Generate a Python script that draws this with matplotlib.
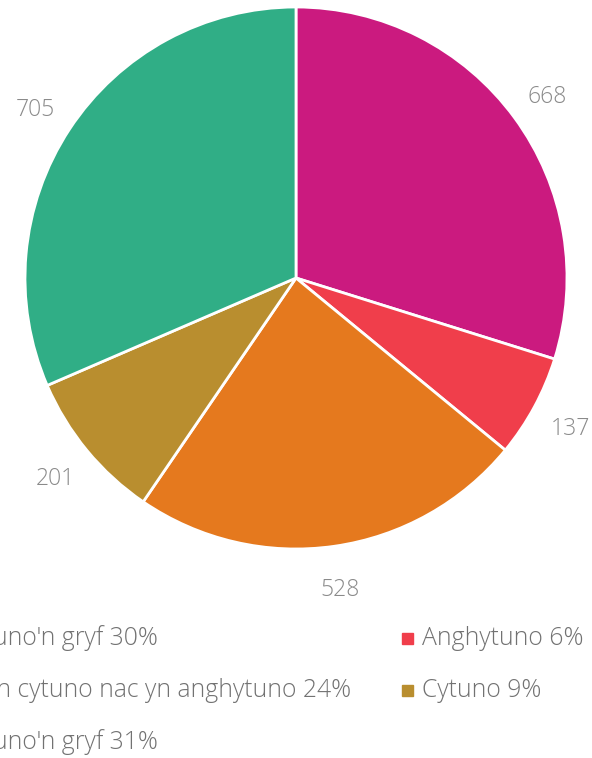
import matplotlib
matplotlib.use('Agg')
import matplotlib.pyplot as plt
from matplotlib.patches import Rectangle

plt.rcParams['font.family'] = ['Open Sans', 'DejaVu Sans']
plt.rcParams['font.weight'] = 'light'

# data
labels = ["Anghytuno'n gryf", "Anghytuno", "Ddim yn cytuno nac yn anghytuno", "Cytuno", "Cytuno'n gryf"]
values = [668, 137, 528, 201, 705]
percents = [30, 6, 24, 9, 31]
colors = ['#CB1A7F', '#F03E4B', '#E5791E', '#B98E2F', '#30AE86']

W, H = 592, 758
fig = plt.figure(figsize=(W / 100, H / 100), dpi=100)

# pie axes: centre (296, 278) px, radius 271 px
cx, cy, r = 296, 278, 271
ax = fig.add_axes([(cx - r) / W, 1 - (cy + r) / H, 2 * r / W, 2 * r / H])
wedges, texts = ax.pie(values, colors=colors, startangle=90, counterclock=False,
                       labels=[str(v) for v in values], labeldistance=1.15,
                       wedgeprops=dict(edgecolor='white', linewidth=2),
                       textprops=dict(color='#8A8A8A', fontsize=16.5))
for t in texts:
    t.set_ha('center')
    t.set_va('center_baseline')
ax.set_xlim(-1, 1)
ax.set_ylim(-1, 1)


def px(x, y):
    return x / W, 1 - y / H


# legend, laid out row by row in two columns; left column runs off the edge
legend_txt = [f"{l} {p}%" for l, p in zip(labels, percents)]
col1_end = [158, 351, 158]
baselines = [645, 697, 749]
for i, txt in enumerate(legend_txt):
    row, col = divmod(i, 2)
    y = baselines[row]
    if col == 0:
        fig.text(*px(col1_end[row], y), txt, ha='right', va='baseline',
                 fontsize=17.8, color='#727272')
    else:
        fig.patches.append(Rectangle(px(402, y - 1), 11 / W, 11 / H,
                                     transform=fig.transFigure, color=colors[i]))
        fig.text(*px(422, y), txt, ha='left', va='baseline',
                 fontsize=17.8, color='#727272')

fig.savefig('out.png', dpi=100)
